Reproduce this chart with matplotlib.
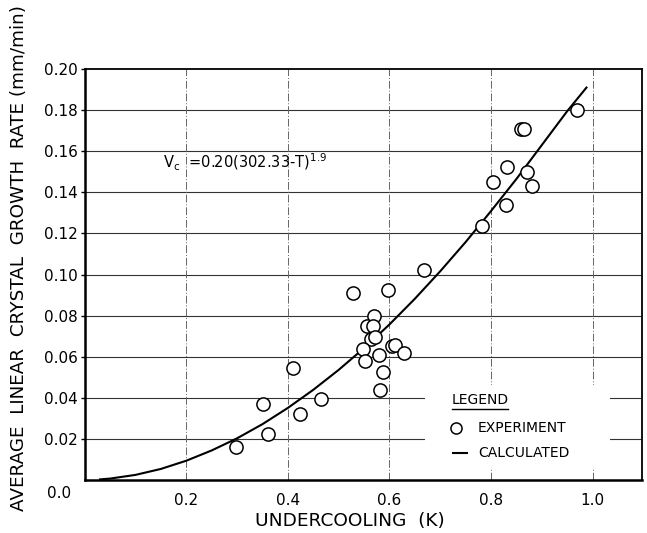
import matplotlib
matplotlib.use("Agg")
import matplotlib.pyplot as plt
from matplotlib.lines import Line2D
from matplotlib.patches import Rectangle

# experimental points (undercooling K, growth rate mm/min)
exp_x = [0.298, 0.351, 0.360, 0.411, 0.424, 0.466, 0.529, 0.598, 0.569,
         0.555, 0.567, 0.563, 0.571, 0.547, 0.551, 0.580, 0.606, 0.610,
         0.629, 0.588, 0.582, 0.669, 0.782, 0.804, 0.829, 0.831, 0.871,
         0.880, 0.859, 0.865, 0.969]
exp_y = [0.0160, 0.0370, 0.0225, 0.0545, 0.0320, 0.0395, 0.0910, 0.0925,
         0.0800, 0.0750, 0.0750, 0.0688, 0.0695, 0.0640, 0.0580, 0.0610,
         0.0650, 0.0655, 0.0620, 0.0525, 0.0440, 0.1020, 0.1235, 0.1450,
         0.1340, 0.1525, 0.1500, 0.1430, 0.1710, 0.1710, 0.1800]

# calculated curve
calc_x = [0.03, 0.05, 0.10, 0.15, 0.20, 0.25, 0.30, 0.35, 0.40, 0.45, 0.50,
          0.55, 0.60, 0.65, 0.70, 0.75, 0.80, 0.85, 0.90, 0.95, 0.988]
calc_y = [0.0003, 0.0007, 0.0025, 0.0054, 0.0094, 0.0144, 0.0203, 0.0272,
          0.0351, 0.0439, 0.0536, 0.0642, 0.0757, 0.0882, 0.1016, 0.1158,
          0.1309, 0.1465, 0.1630, 0.1795, 0.1910]

xticks = [0.2, 0.4, 0.6, 0.8, 1.0]
xticklabels = ["0.2", "0.4", "0.6", "0.8", "1.0"]
yticks = [0.02, 0.04, 0.06, 0.08, 0.10, 0.12, 0.14, 0.16, 0.18, 0.20]
yticklabels = ["0.02", "0.04", "0.06", "0.08", "0.10", "0.12", "0.14",
               "0.16", "0.18", "0.20"]

plt.rcParams['font.family'] = ['DejaVu Sans']

fig = plt.figure(figsize=(6.47, 5.33), dpi=100)
ax = fig.add_axes([0.131, 0.0994, 0.861, 0.771])

ax.set_xlim(0.0, 1.097)
ax.set_ylim(0.0, 0.20)

# grid: solid horizontals, broken verticals
for yv in yticks[:-1]:
    ax.axhline(yv, color='#333333', lw=0.8, zorder=1)
for xv in xticks:
    ax.axvline(xv, color='#666666', lw=0.7, ls=(0, (8, 2, 1, 2)), zorder=1)

ax.plot(calc_x, calc_y, color='black', lw=1.5, zorder=3)
ax.plot(exp_x, exp_y, ls='none', marker='o', ms=9.5, mfc='white',
        mec='black', mew=1.1, zorder=4)

ax.set_xticks(xticks)
ax.set_xticklabels(xticklabels, fontsize=11)
ax.set_yticks(yticks)
ax.set_yticklabels(yticklabels, fontsize=11)
ax.tick_params(axis='x', length=0, pad=9)
ax.tick_params(axis='y', length=3, width=1, pad=2)

for side in ['left', 'bottom']:
    ax.spines[side].set_linewidth(1.8)
for side in ['top', 'right']:
    ax.spines[side].set_linewidth(1.3)

# "0.0" sits below the origin, in line with the x labels
fig.text(0.091, 1 - 493 / 533, "0.0", fontsize=11, ha='center', va='center')

fig.text(0.030, 1 - 258 / 533,
         "AVERAGE  LINEAR  CRYSTAL  GROWTH  RATE (mm/min)",
         rotation=90, fontsize=13.2, ha='center', va='center')
fig.text(350 / 647, 1 - 521 / 533, "UNDERCOOLING  (K)", fontsize=13.3,
         ha='center', va='center')

# equation
fig.text(163 / 647, 1 - 162 / 533,
         r"$\mathrm{V_c}$  =0.20(302.33-T)$^{\mathrm{1.9}}$",
         fontsize=10.5, ha='left', va='center')

# legend block
lg = Rectangle((425 / 647, 1 - 468 / 533), 185 / 647, 83 / 533,
               transform=fig.transFigure, facecolor='white', edgecolor='none',
               zorder=5)
fig.patches.append(lg)
fig.text(452 / 647, 1 - 400 / 533, "LEGEND", fontsize=10, ha='left',
         va='center', zorder=6)
fig.lines.append(Line2D([452 / 647, 508 / 647], [1 - 409 / 533, 1 - 409 / 533],
                        transform=fig.transFigure, color='black', lw=1.0,
                        zorder=6))
fig.lines.append(Line2D([456 / 647], [1 - 428 / 533], transform=fig.transFigure,
                        marker='o', ms=8, mfc='white', mec='black', mew=1.1,
                        zorder=6))
fig.text(478 / 647, 1 - 428 / 533, "EXPERIMENT", fontsize=10, ha='left',
         va='center', zorder=6)
fig.lines.append(Line2D([453 / 647, 467 / 647], [1 - 453 / 533, 1 - 453 / 533],
                        transform=fig.transFigure, color='black', lw=1.5,
                        zorder=6))
fig.text(478 / 647, 1 - 453 / 533, "CALCULATED", fontsize=10, ha='left',
         va='center', zorder=6)

fig.savefig("out.png", dpi=100)
